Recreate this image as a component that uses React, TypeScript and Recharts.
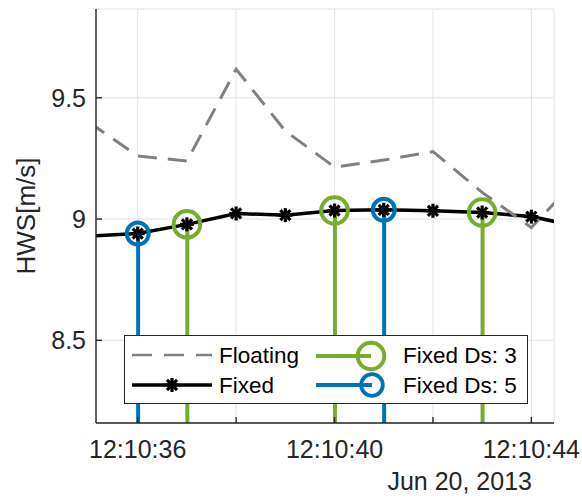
import { ComposedChart, Line, Bar, Cell, XAxis, YAxis, CartesianGrid, Label } from 'recharts';

// seconds after 12:10:00 on Jun 20, 2013
const times = [35, 36, 37, 38, 39, 40, 41, 42, 43, 44, 45];
const floating = [9.4, 9.26, 9.239, 9.618, 9.363, 9.214, 9.243, 9.278, 9.11, 8.965, 9.18];
const fixed = [8.93, 8.94, 8.978, 9.023, 9.016, 9.035, 9.038, 9.034, 9.027, 9.01, 8.967];
const fixedDs3 = [null, null, 8.978, null, null, 9.035, null, null, 9.027, null, null];
const fixedDs5 = [null, 8.94, null, null, null, null, 9.038, null, null, null, null];

const xTicks = [36, 38, 40, 42, 44];
const xLabeled = [36, 40, 44];
const yTicks = [8.5, 9, 9.5];
const xDomain = [35.152, 44.46];
const yDomain = [8.159, 9.866];
const dateLabel = 'Jun 20, 2013';
const yLabel = 'HWS[m/s]';
const legendNames = ['Floating', 'Fixed', 'Fixed Ds: 3', 'Fixed Ds: 5'];

const INK = '#262626';
const GREEN = '#77AC30';
const BLUE = '#0072BD';
const GRAY = '#808080';
const FONT = '"Liberation Sans", Arial, Helvetica, sans-serif';

const data = times.map((t, i) => ({
  t,
  floating: floating[i],
  fixed: fixed[i],
  ds3: fixedDs3[i],
  ds5: fixedDs5[i],
  stem: fixedDs3[i] ?? fixedDs5[i],
}));

const fmtTime = (s: number) => `12:10:${s}`;

function Star({ cx, cy, size = 14, key }: any) {
  if (cx == null || cy == null) return <g key={key} />;
  const h = size / 2;
  const d = h * 0.72;
  return (
    <g key={key} stroke="#000" strokeWidth={3.2}>
      <line x1={cx - h} y1={cy} x2={cx + h} y2={cy} />
      <line x1={cx} y1={cy - h} x2={cx} y2={cy + h} />
      <line x1={cx - d} y1={cy - d} x2={cx + d} y2={cy + d} />
      <line x1={cx - d} y1={cy + d} x2={cx + d} y2={cy - d} />
      <circle cx={cx} cy={cy} r={3.5} fill="#000" stroke="none" />
    </g>
  );
}

const XTick = ({ x, y, payload }: any) =>
  xLabeled.includes(payload.value) ? (
    <text x={x} y={y} dy="0.71em" textAnchor="middle" fill={INK} fontSize={25}>
      {fmtTime(payload.value)}
    </text>
  ) : (
    <g />
  );

const YTick = ({ x, y, payload }: any) => (
  <text x={x} y={y} dy="0.35em" textAnchor="end" fill={INK} fontSize={25}>
    {payload.value}
  </text>
);

function ChartLegend() {
  const rows = [20, 50];
  return (
    <svg
      width={404}
      height={69}
      style={{ position: 'absolute', left: 124, top: 335, fontFamily: FONT }}
    >
      <rect x={0.5} y={0.5} width={403} height={68} fill="#fff" stroke={INK} strokeWidth={1} />
      <line x1={8} y1={rows[0]} x2={88} y2={rows[0]} stroke={GRAY} strokeWidth={2.6} strokeDasharray="20 12" />
      <text x={95} y={rows[0]} dy="0.35em" fontSize={22.5} fill="#000">{legendNames[0]}</text>
      <line x1={8} y1={rows[1]} x2={88} y2={rows[1]} stroke="#000" strokeWidth={3.5} />
      <Star cx={48} cy={rows[1]} />
      <text x={95} y={rows[1]} dy="0.35em" fontSize={22.5} fill="#000">{legendNames[1]}</text>
      <line x1={192} y1={rows[0] + 1} x2={247} y2={rows[0] + 1} stroke={GREEN} strokeWidth={4} />
      <circle cx={247} cy={rows[0] + 1} r={13.3} fill="none" stroke={GREEN} strokeWidth={4} />
      <text x={279} y={rows[0]} dy="0.35em" fontSize={22.5} fill="#000">{legendNames[2]}</text>
      <line x1={192} y1={rows[1]} x2={248} y2={rows[1]} stroke={BLUE} strokeWidth={4} />
      <circle cx={248} cy={rows[1]} r={10.8} fill="none" stroke={BLUE} strokeWidth={3.8} />
      <text x={279} y={rows[1]} dy="0.35em" fontSize={22.5} fill="#000">{legendNames[3]}</text>
    </svg>
  );
}

export default function App() {
  const axisStroke = { stroke: INK, strokeWidth: 1.4 };
  return (
    <div style={{ position: 'relative', width: 582, height: 498, background: '#fff', fontFamily: FONT }}>
      <style>{`body{margin:0}`}</style>
      <ComposedChart
        width={582}
        height={498}
        data={data}
        margin={{ top: 9, right: 28, bottom: 35, left: 26 }}
        style={{ fontFamily: FONT }}
      >
        <CartesianGrid stroke="#e2e2e2" strokeWidth={1} />
        <XAxis
          dataKey="t"
          type="number"
          domain={xDomain}
          allowDataOverflow
          ticks={xTicks}
          interval={0}
          height={40}
          tickSize={-6}
          tickMargin={23}
          axisLine={axisStroke}
          tickLine={axisStroke}
          tick={<XTick />}
        >
          <Label
            content={({ viewBox }: any) => (
              <text
                x={viewBox.x + viewBox.width - 22}
                y={viewBox.y + viewBox.height + 27}
                textAnchor="end"
                fill={INK}
                fontSize={25}
              >
                {dateLabel}
              </text>
            )}
          />
        </XAxis>
        <XAxis
          xAxisId="top"
          orientation="top"
          type="number"
          domain={xDomain}
          allowDataOverflow
          ticks={xTicks}
          interval={0}
          height={0}
          tickSize={-6}
          axisLine={axisStroke}
          tickLine={axisStroke}
          tick={false}
        />
        <YAxis
          type="number"
          domain={yDomain}
          allowDataOverflow
          ticks={yTicks}
          interval={0}
          width={70}
          tickSize={-6}
          tickMargin={16}
          axisLine={axisStroke}
          tickLine={axisStroke}
          tick={<YTick />}
        >
          <Label
            content={({ viewBox }: any) => {
              const x = viewBox.x + 9;
              const y = viewBox.y + viewBox.height / 2;
              return (
                <text x={x} y={y} textAnchor="middle" fill={INK} fontSize={26} transform={`rotate(-90, ${x}, ${y})`}>
                  {yLabel}
                </text>
              );
            }}
          />
        </YAxis>
        <YAxis
          yAxisId="right"
          orientation="right"
          type="number"
          domain={yDomain}
          allowDataOverflow
          ticks={yTicks}
          interval={0}
          width={0}
          tickSize={-6}
          axisLine={axisStroke}
          tickLine={axisStroke}
          tick={false}
        />
        <Line
          dataKey="fixed"
          stroke="#000"
          strokeWidth={3.5}
          dot={(p: any) => <Star key={p.index} cx={p.cx} cy={p.cy} />}
          isAnimationActive={false}
        />
        <Line
          dataKey="floating"
          stroke={GRAY}
          strokeWidth={3}
          strokeDasharray="19 11"
          dot={false}
          isAnimationActive={false}
        />
        <Bar dataKey="stem" barSize={4} isAnimationActive={false}>
          {data.map((d, i) => (
            <Cell key={i} fill={d.ds3 != null ? GREEN : BLUE} />
          ))}
        </Bar>
        <Line
          dataKey="ds3"
          stroke="none"
          dot={{ r: 13.3, stroke: GREEN, strokeWidth: 4, fill: 'none' }}
          isAnimationActive={false}
        />
        <Line
          dataKey="ds5"
          stroke="none"
          dot={{ r: 11, stroke: BLUE, strokeWidth: 4, fill: 'none' }}
          isAnimationActive={false}
        />
      </ComposedChart>
      <ChartLegend />
    </div>
  );
}
